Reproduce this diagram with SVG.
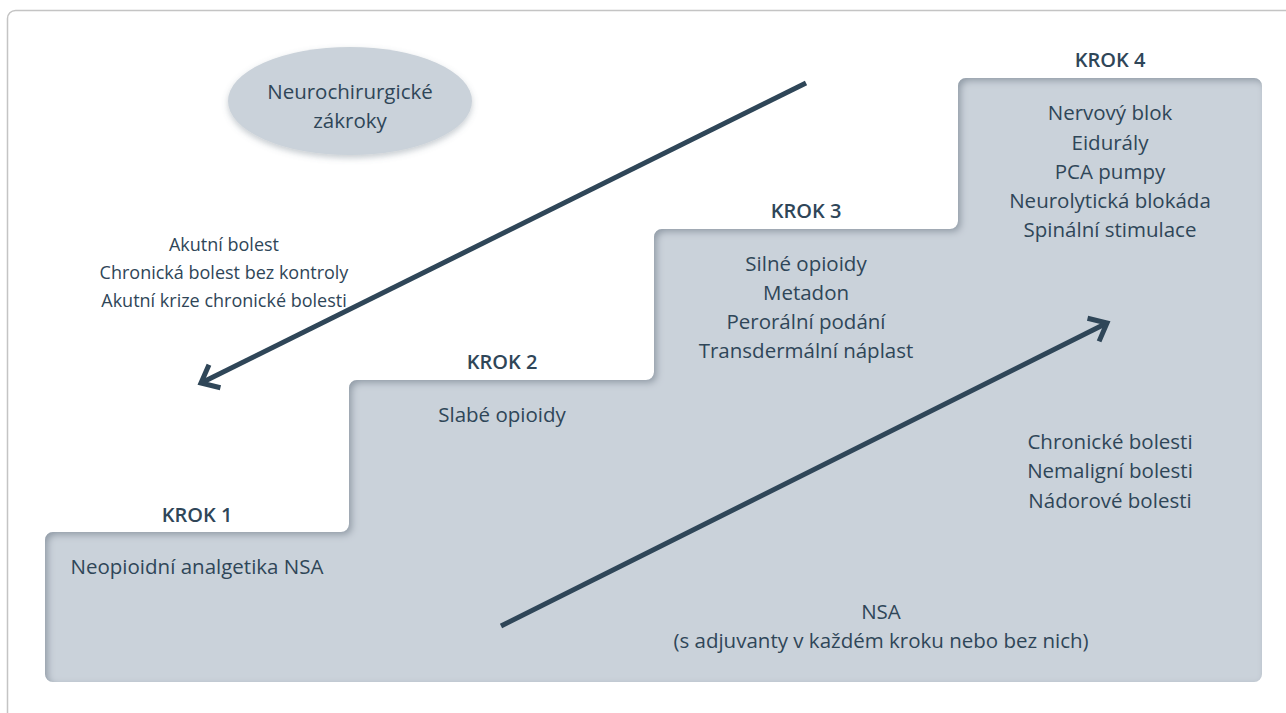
<svg xmlns="http://www.w3.org/2000/svg" width="1286" height="713" viewBox="0 0 1286 713">
<style>
text{font-family:"Open Sans","Noto Sans","DejaVu Sans",sans-serif;font-size:20.5px;fill:#2f4658;text-anchor:middle;}
.h{font-weight:600;font-size:20px;}
.s{font-size:18px;}
.ln{stroke:#2f4658;stroke-width:5;fill:none;}
</style>
<defs>
<filter id="inner" x="-5%" y="-5%" width="110%" height="110%">
<feFlood flood-color="#5f6f7e" flood-opacity="0.65" result="c"/>
<feComposite in="c" in2="SourceAlpha" operator="out" result="inv"/>
<feOffset in="inv" dx="3" dy="3" result="off"/>
<feGaussianBlur in="off" stdDeviation="3.5" result="blur"/>
<feComposite in="blur" in2="SourceAlpha" operator="in" result="shadow"/>
<feMerge><feMergeNode in="SourceGraphic"/><feMergeNode in="shadow"/></feMerge>
</filter>
<filter id="drop" x="-20%" y="-20%" width="140%" height="150%">
<feDropShadow dx="0" dy="3" stdDeviation="3" flood-color="#5f6f7e" flood-opacity="0.35"/>
</filter>
<marker id="chev" markerUnits="userSpaceOnUse" orient="auto" refX="0" refY="0" markerWidth="40" markerHeight="40" viewBox="-30 -20 40 40" overflow="visible">
<path d="M -15.3,-12.9 L 0,0 L -15.3,12.9" stroke="#2f4658" stroke-width="5" fill="none" stroke-linejoin="miter"/>
</marker>
</defs>
<rect x="7.5" y="10.5" width="1300" height="730" rx="8" fill="#ffffff" stroke="#c4c4c4" stroke-width="1.5"/>
<g id="stairs">
<path d="M 45,540 A 8 8 0 0 1 53,532 L 341,532 A 8 8 0 0 0 349,524 L 349,388 A 8 8 0 0 1 357,380 L 646,380 A 8 8 0 0 0 654,372 L 654,237 A 8 8 0 0 1 662,229 L 950,229 A 8 8 0 0 0 958,221 L 958,86 A 8 8 0 0 1 966,78 L 1254,78 A 8 8 0 0 1 1262,86 L 1262,674 A 8 8 0 0 1 1254,682 L 53,682 A 8 8 0 0 1 45,674 Z" fill="#cad2da" filter="url(#inner)"/>
</g>
<g id="neuro">
<ellipse cx="350" cy="101" rx="122" ry="54" fill="#cad2da" filter="url(#drop)"/>
<text x="350" y="99">Neurochirurgické</text>
<text x="350" y="128">zákroky</text>
</g>
<g id="akutni">
<text class="s" x="224" y="251">Akutní bolest</text>
<text class="s" x="224" y="279">Chronická bolest bez kontroly</text>
<text class="s" x="224" y="307">Akutní krize chronické bolesti</text>
</g>
<g id="krok1">
<text class="h" x="197" y="522">KROK 1</text>
<text x="197" y="574">Neopioidní analgetika NSA</text>
</g>
<g id="krok2">
<text class="h" x="502" y="369">KROK 2</text>
<text x="502" y="422">Slabé opioidy</text>
</g>
<g id="krok3">
<text class="h" x="806" y="218">KROK 3</text>
<text x="806" y="271">Silné opioidy</text>
<text x="806" y="300">Metadon</text>
<text x="806" y="329">Perorální podání</text>
<text x="806" y="358">Transdermální náplast</text>
</g>
<g id="krok4">
<text class="h" x="1110" y="67">KROK 4</text>
<text x="1110" y="120">Nervový blok</text>
<text x="1110" y="150">Eidurály</text>
<text x="1110" y="179">PCA pumpy</text>
<text x="1110" y="208">Neurolytická blokáda</text>
<text x="1110" y="237">Spinální stimulace</text>
</g>
<g id="chronicke">
<text x="1110" y="449">Chronické bolesti</text>
<text x="1110" y="478">Nemaligní bolesti</text>
<text x="1110" y="508">Nádorové bolesti</text>
</g>
<g id="nsa">
<text x="881" y="619">NSA</text>
<text x="881" y="648">(s adjuvanty v každém kroku nebo bez nich)</text>
</g>
<g id="connectors">
<line class="ln" x1="806" y1="83" x2="201" y2="383" marker-end="url(#chev)"/>
<line class="ln" x1="501" y1="626" x2="1107" y2="323" marker-end="url(#chev)"/>
</g>
</svg>
